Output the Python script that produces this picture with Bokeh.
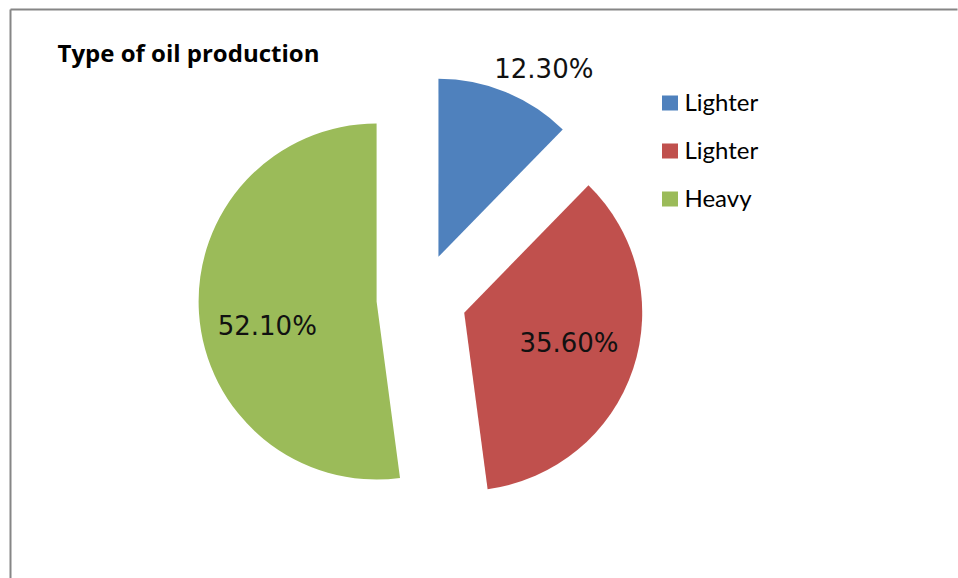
import math
from bokeh.plotting import figure
from bokeh.models import Range1d, ColumnDataSource
from bokeh.core.properties import value
from bokeh.embed import file_html
from bokeh.resources import INLINE

# ---- data ----
title = "Type of oil production"
categories = ["Lighter", "Lighter", "Heavy"]
shares = [12.30, 35.60, 52.10]
labels = ["12.30%", "35.60%", "52.10%"]
colors = ["#4F81BD", "#C0504D", "#9BBB59"]

# ---- layout ----
W, H = 958, 578
CX, CY = 421, H - 298          # pie centre (data units == pixels)
R = 178                        # pie radius
EXPLODE = 45                   # slice explosion distance
LABEL_SHIFT = [7.2, -2.3, -8.8]   # degrees relative to slice bisector
LABEL_DIST = [215, 109, 112]      # distance from slice apex
LEG_X, LEG_Y0, LEG_STEP = 669.5, H - 102.5, 48

p = figure(width=W, height=H, x_range=Range1d(0, W), y_range=Range1d(0, H),
           output_backend="svg", toolbar_location=None, min_border=0)
p.axis.visible = False
p.grid.visible = False
p.outline_line_color = None
p.background_fill_color = "white"
p.border_fill_color = "white"

# border (top and left edges of the chart area)
p.segment(x0=[10, 10], y0=[H - 9, H - 9], x1=[957, 10], y1=[H - 9, 0],
          line_color="#868686", line_width=2)

# wedges
total = sum(shares)
xs, ys, sa, ea, lx, ly = [], [], [], [], [], []
cum = 0.0
for i, s in enumerate(shares):
    t1 = cum
    t2 = cum + s / total * 360.0
    cum = t2
    mid = (t1 + t2) / 2.0
    cx = CX + EXPLODE * math.sin(math.radians(mid))
    cy = CY + EXPLODE * math.cos(math.radians(mid))
    xs.append(cx)
    ys.append(cy)
    sa.append(math.radians(90 - t2))
    ea.append(math.radians(90 - t1))
    la = math.radians(mid + LABEL_SHIFT[i])
    lx.append(cx + LABEL_DIST[i] * math.sin(la))
    ly.append(cy + LABEL_DIST[i] * math.cos(la))

src = ColumnDataSource(dict(x=xs, y=ys, start=sa, end=ea, color=colors,
                            lx=lx, ly=ly, label=labels, cat=categories))
p.wedge(x="x", y="y", radius=R, start_angle="start", end_angle="end",
        fill_color="color", line_color=None, source=src)

p.text(x="lx", y="ly", text="label", source=src, text_align="center",
       text_baseline="middle", text_font=value("DejaVu Sans"),
       text_font_size="26px", text_color="#111111")

# title
p.text(x=[57], y=[H - 52], text=[title], text_align="left",
       text_baseline="middle", text_font=value("Open Sans"),
       text_font_style="bold", text_font_size="24px", text_color="#000000")

# legend
leg = ColumnDataSource(dict(
    x=[LEG_X] * len(categories),
    y=[LEG_Y0 - i * LEG_STEP for i in range(len(categories))],
    tx=[LEG_X + 14.5] * len(categories),
    ty=[LEG_Y0 + 1.5 - i * LEG_STEP for i in range(len(categories))],
    color=colors, cat=categories))
p.rect(x="x", y="y", width=16, height=15, fill_color="color",
       line_color=None, source=leg)
p.text(x="tx", y="ty", text="cat", source=leg, text_align="left",
       text_baseline="middle", text_font=value("Lato"),
       text_font_size="24px", text_color="#000000")

open("out.html", "w").write(file_html(p, INLINE))
